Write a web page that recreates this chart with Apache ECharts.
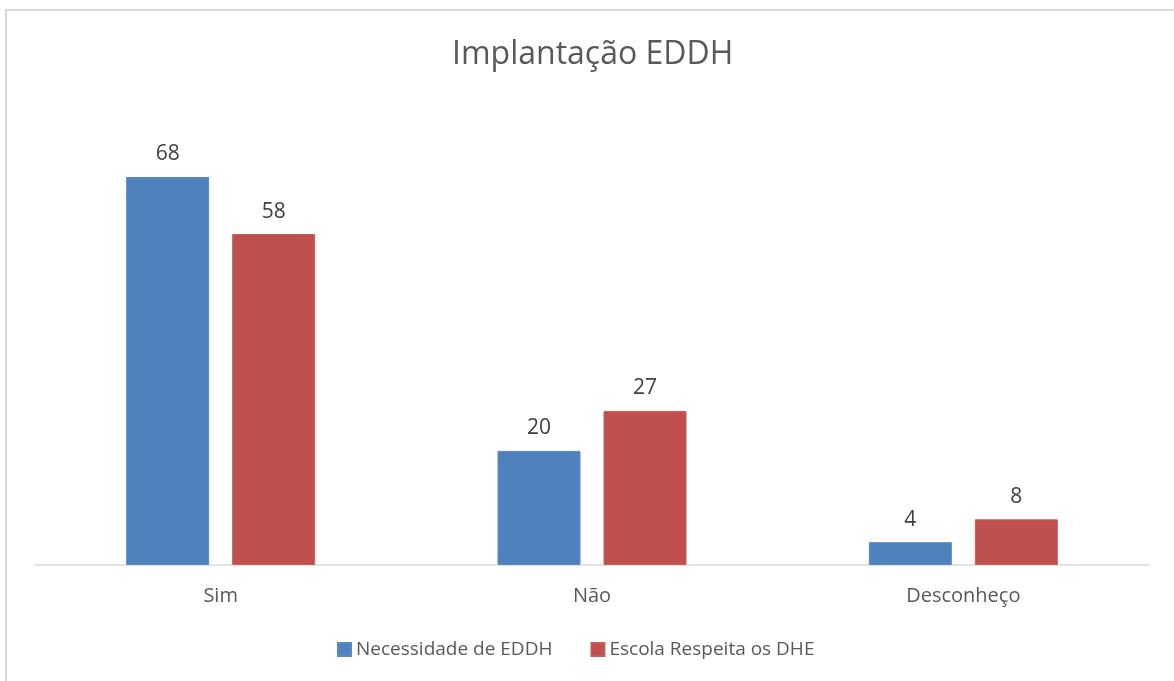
<!DOCTYPE html>
<html>
<head>
<meta charset="utf-8">
<script src="https://cdn.jsdelivr.net/npm/echarts@6/dist/echarts.min.js"></script>
<style>
  html, body { margin: 0; padding: 0; background: #fff; overflow: hidden; }
  #frame {
    position: absolute; left: 5px; top: 9px; width: 1200px; height: 700px;
    border: 2px solid #d9d9d9; box-sizing: border-box;
  }
  #chart { position: absolute; left: 0; top: 0; width: 1174px; height: 681px; }
</style>
</head>
<body>
<div id="frame"></div>
<div id="chart"></div>
<script>
const categories = ['Sim', 'Não', 'Desconheço'];
const necessidade = [68, 20, 4];
const escola = [58, 27, 8];
const seriesNames = ['Necessidade de EDDH', 'Escola Respeita os DHE'];

const font = '"Open Sans", sans-serif';

const chart = echarts.init(document.getElementById('chart'));

const labelStyle = {
  show: true,
  position: 'top',
  distance: 12,
  color: '#404040',
  fontSize: 21,
  fontFamily: font
};

chart.setOption({
  animation: false,
  backgroundColor: 'transparent',
  title: {
    text: 'Implantação EDDH',
    left: 447,
    top: 34,
    textStyle: {
      color: '#595959',
      fontSize: 32,
      fontWeight: 'normal',
      fontFamily: font
    }
  },
  legend: {
    bottom: 17,
    left: 332,
    itemWidth: 13,
    itemHeight: 13,
    itemGap: 38,
    icon: 'rect',
    textStyle: {
      color: '#595959',
      fontSize: 19,
      fontFamily: font
    },
    data: seriesNames
  },
  grid: {
    left: 35,
    right: 25,
    top: 108.5,
    bottom: 116
  },
  xAxis: {
    type: 'category',
    data: categories,
    axisLine: { lineStyle: { color: '#d9d9d9', width: 1.5 } },
    axisTick: { show: false },
    axisLabel: {
      color: '#595959',
      fontSize: 20,
      fontFamily: font,
      margin: 21
    }
  },
  yAxis: {
    type: 'value',
    min: 0,
    max: 80,
    show: false,
    splitLine: { show: false }
  },
  series: [
    {
      name: seriesNames[0],
      type: 'bar',
      data: necessidade,
      barWidth: 83,
      barGap: '27.7%',
      itemStyle: { color: '#4f81bd', borderColor: '#5b8ac2', borderWidth: 1 },
      label: labelStyle
    },
    {
      name: seriesNames[1],
      type: 'bar',
      data: escola,
      barWidth: 83,
      itemStyle: { color: '#c0504d', borderColor: '#c65e5b', borderWidth: 1 },
      label: labelStyle
    }
  ]
});
</script>
</body>
</html>
